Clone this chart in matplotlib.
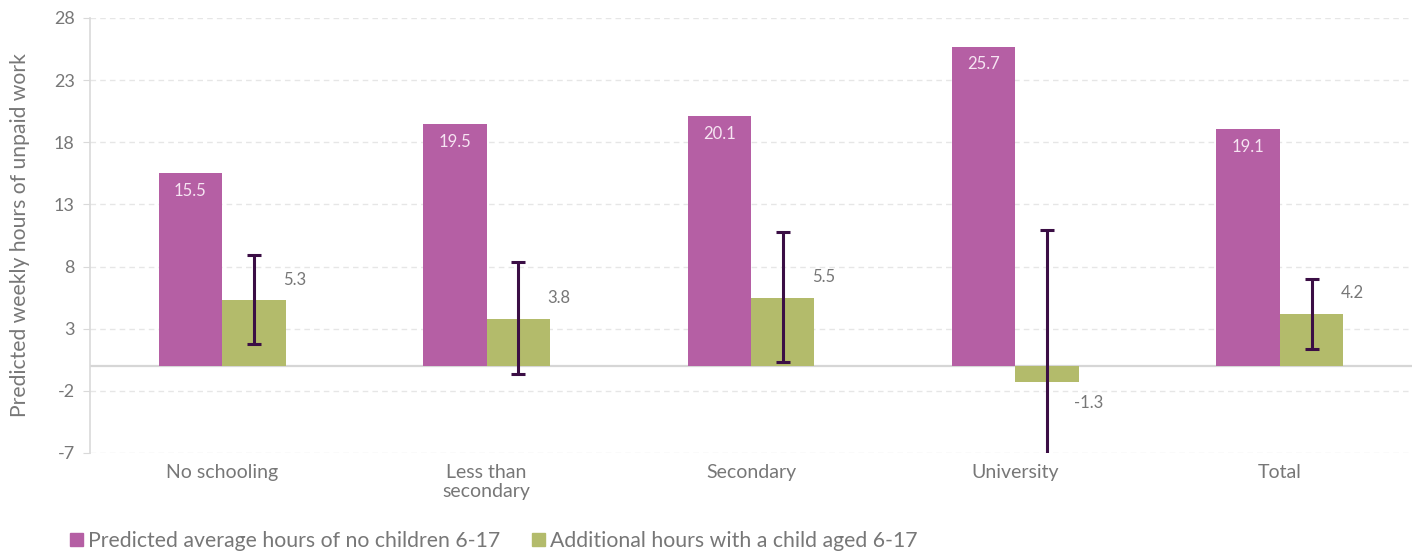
import matplotlib
matplotlib.use("Agg")
import matplotlib.pyplot as plt
import numpy as np
from matplotlib.patches import Patch

plt.rcParams['font.family'] = ['Lato', 'DejaVu Sans']
plt.rcParams['font.weight'] = 'normal'

categories = ["No schooling", "Less than\nsecondary", "Secondary", "University", "Total"]
predicted = [15.5, 19.5, 20.1, 25.7, 19.1]
additional = [5.3, 3.8, 5.5, -1.3, 4.2]
ci_low = [1.8, -0.65, 0.3, -13.5, 1.4]
ci_high = [8.9, 8.35, 10.8, 10.9, 7.0]
yticks = [-7, -2, 3, 8, 13, 18, 23, 28]
series_names = ["Predicted average hours of no children 6-17",
                "Additional hours with a child aged 6-17"]

c_mag = "#b55fa4"
c_grn = "#b3bb6b"
c_err = "#3b0e45"
c_txt = "#777777"

fig = plt.figure(figsize=(14.17, 5.53), dpi=100)
ax = fig.add_axes([0.0635, 0.181, 0.933, 0.7865])

x = np.arange(len(categories))
w = 0.24
ax.bar(x - w/2, predicted, w, color=c_mag, zorder=3)
ax.bar(x + w/2, additional, w, color=c_grn, zorder=3)

add = np.array(additional)
yerr = np.vstack([add - np.array(ci_low), np.array(ci_high) - add])
ax.errorbar(x + w/2, add, yerr=yerr, fmt='none', ecolor=c_err, elinewidth=2.2,
            capsize=5, capthick=2.2, zorder=4, clip_on=True)

for xi, v in zip(x, predicted):
    ax.text(xi - w/2, v - 0.8, f"{v}", ha='center', va='top', color="#f6e4f2",
            fontsize=12)
for xi, v in zip(x, additional):
    if v >= 0:
        ax.text(xi + w + 0.035, v + 1.0, f"{v}", ha='center', va='bottom', color=c_txt,
                fontsize=12)
    else:
        ax.text(xi + w + 0.035, v - 1.0, f"{v}", ha='center', va='top', color=c_txt,
                fontsize=12)

ax.set_xlim(-0.5, 4.5)
ax.set_ylim(-7, 28)
ax.set_yticks(yticks)
ax.set_yticklabels([str(t) for t in yticks], fontsize=13, color=c_txt)
ax.set_xticks(x)
ax.set_xticklabels(categories, fontsize=14, color=c_txt, linespacing=1.15)
ax.tick_params(axis='x', length=0, pad=8)
ax.tick_params(axis='y', length=5, color="#d9d9d9", pad=6)
ax.yaxis.grid(True, linestyle=(0, (4, 3)), color="#e6e6e6", linewidth=1, zorder=0)
ax.set_axisbelow(True)
ax.axhline(0, color="#d6d6d6", linewidth=1.6, zorder=2)
for s in ['top', 'right', 'bottom']:
    ax.spines[s].set_visible(False)
ax.spines['left'].set_color("#d9d9d9")
ax.spines['left'].set_linewidth(1.2)
ax.set_ylabel("Predicted weekly hours of unpaid work", fontsize=15.2, color=c_txt, labelpad=17)

handles = [Patch(color=c_mag, label=series_names[0]), Patch(color=c_grn, label=series_names[1])]
fig.legend(handles=handles, loc='center left', bbox_to_anchor=(0.036, 0.022), ncol=2,
           frameon=False, fontsize=15.3, handlelength=0.6, handleheight=0.6,
           handletextpad=0.25, columnspacing=1.5, labelcolor=c_txt)

fig.savefig("out.png", dpi=100)
